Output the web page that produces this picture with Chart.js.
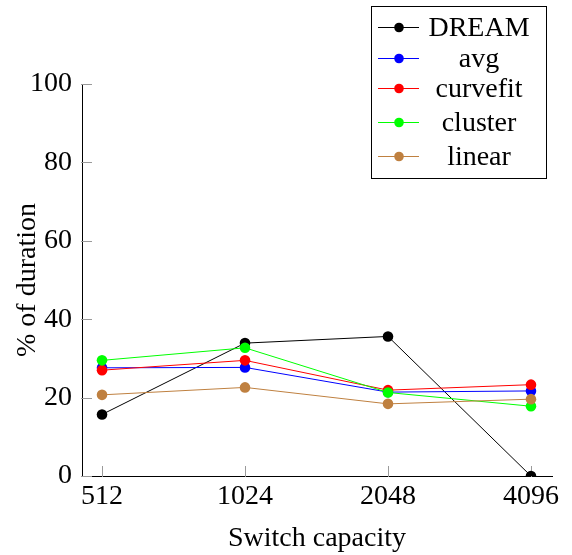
<!DOCTYPE html>
<html><head><meta charset="utf-8">
<script src="https://cdn.jsdelivr.net/npm/chart.js@4"></script>
<style>html,body{margin:0;padding:0;background:#fff}</style>
</head><body>
<canvas id="c" width="572" height="555" style="width:572px;height:555px;display:block"></canvas>
<script>
const categories = ['512', '1024', '2048', '4096'];
const seriesNames = ['DREAM', 'avg', 'curvefit', 'cluster', 'linear'];
const dream    = [15.7, 33.9, 35.6, 0];
const avg      = [27.6, 27.7, 21.4, 21.7];
const curvefit = [27.0, 29.5, 21.9, 23.3];
const cluster  = [29.5, 32.7, 21.3, 17.8];
const linear   = [20.7, 22.6, 18.4, 19.6];
const yTicks   = [0, 20, 40, 60, 80, 100];
const xTitle = 'Switch capacity';
const yTitle = '% of duration';

const colors = ['#000000', '#0000ff', '#ff0000', '#00ff00', '#bf8040'];
const allSeries = [dream, avg, curvefit, cluster, linear];
const FONT = '"Liberation Serif", "DejaVu Serif", serif';
const FS = 28;

const datasets = allSeries.map((vals, k) => ({
  label: seriesNames[k],
  data: vals.map((v, i) => ({x: i, y: v})),
  borderColor: colors[k],
  backgroundColor: colors[k],
  pointBackgroundColor: colors[k],
  pointBorderColor: colors[k],
  borderWidth: 1,
  pointRadius: 5.3,
  pointBorderWidth: 0,
  tension: 0,
  order: allSeries.length - k
}));

const tickPlugin = {
  id: 'insideTicks',
  beforeDatasetsDraw(chart) {
    const ctx = chart.ctx, x = chart.scales.x, y = chart.scales.y, a = chart.chartArea;
    ctx.save();
    ctx.strokeStyle = '#9a9a9a';
    ctx.lineWidth = 1;
    ctx.beginPath();
    categories.forEach((c, i) => {
      const px = Math.round(x.getPixelForValue(i)) + 0.5;
      ctx.moveTo(px, a.bottom + 1); ctx.lineTo(px, a.bottom - 10);
    });
    yTicks.forEach(v => {
      const py = Math.round(y.getPixelForValue(v)) + 0.5;
      ctx.moveTo(a.left - 1, py); ctx.lineTo(a.left + 10, py);
    });
    ctx.stroke();
    ctx.restore();
  }
};

const legendPlugin = {
  id: 'boxLegend',
  afterDraw(chart) {
    const ctx = chart.ctx;
    const box = {x: 371.5, y: 6.5, w: 175, h: 172};
    const rows = [27, 58, 88, 122, 156];
    ctx.save();
    ctx.fillStyle = '#fff';
    ctx.fillRect(box.x, box.y, box.w, box.h);
    ctx.strokeStyle = '#000';
    ctx.lineWidth = 1;
    ctx.strokeRect(box.x, box.y, box.w, box.h);
    chart.data.datasets.forEach((ds, k) => {
      const yy = rows[k];
      ctx.strokeStyle = ds.borderColor;
      ctx.beginPath();
      ctx.moveTo(378, yy + 0.5); ctx.lineTo(419, yy + 0.5);
      ctx.stroke();
      ctx.fillStyle = ds.borderColor;
      ctx.beginPath();
      ctx.arc(399, yy + 0.5, 4.8, 0, Math.PI * 2);
      ctx.fill();
      ctx.fillStyle = '#000';
      ctx.font = FS + 'px ' + FONT;
      ctx.textAlign = 'center';
      ctx.textBaseline = 'alphabetic';
      ctx.fillText(ds.label, 479, yy + 9);
    });
    ctx.restore();
  }
};

new Chart(document.getElementById('c'), {
  type: 'line',
  data: {datasets},
  options: {
    responsive: false,
    animation: false,
    devicePixelRatio: 1,
    layout: {padding: {top: 84, right: 20, left: 0, bottom: 0}},
    plugins: {legend: {display: false}, tooltip: {enabled: false}},
    scales: {
      x: {
        type: 'linear',
        min: -0.14, max: 3.147,
        afterBuildTicks(s) { s.ticks = categories.map((c, i) => ({value: i})); },
        afterFit(s) { s.height = 79; },
        ticks: {
          callback: (v) => categories[v],
          color: '#000', font: {family: FONT, size: FS}, padding: 4,
          maxRotation: 0, autoSkip: false
        },
        grid: {color: 'rgba(0,0,0,0)', drawTicks: false},
        border: {display: true, color: '#000', width: 1},
        title: {display: true, text: xTitle, color: '#000', font: {family: FONT, size: FS}, padding: {top: 0, bottom: 0}}
      },
      y: {
        min: 0, max: 100,
        afterBuildTicks(s) { s.ticks = yTicks.map(v => ({value: v})); },
        afterFit(s) { s.width = 82; },
        ticks: {color: '#000', font: {family: FONT, size: FS}, padding: 10},
        grid: {color: 'rgba(0,0,0,0)', drawTicks: false},
        border: {display: true, color: '#000', width: 1},
        title: {display: true, text: yTitle, color: '#000', font: {family: FONT, size: FS}, padding: {top: 11, bottom: 0}}
      }
    }
  },
  plugins: [tickPlugin, legendPlugin]
});
</script>
</body></html>
